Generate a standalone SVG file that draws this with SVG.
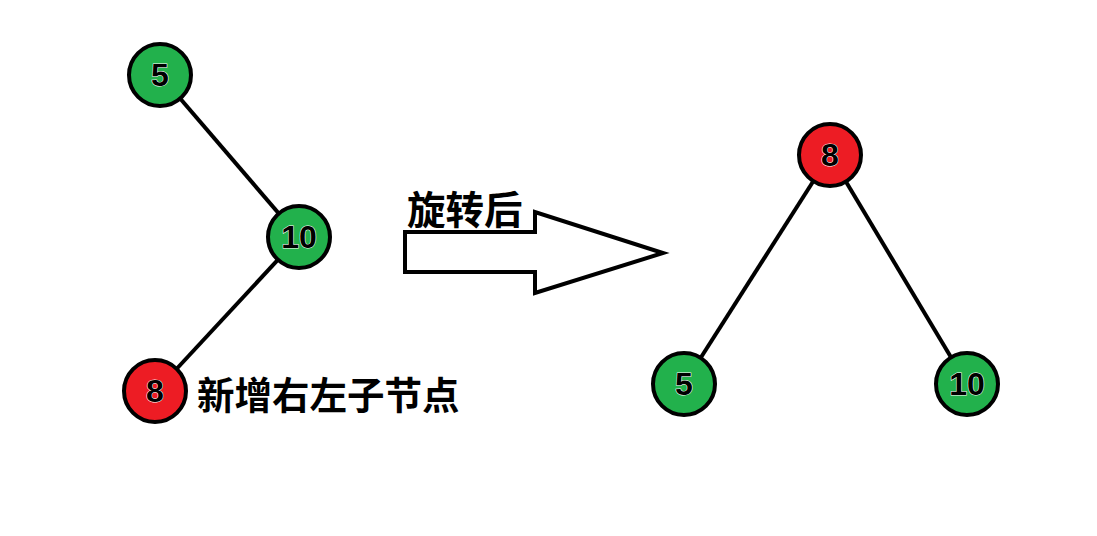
<svg xmlns="http://www.w3.org/2000/svg" width="1097" height="536" viewBox="0 0 1097 536">
<style>
.edge{stroke:#000;stroke-width:4;fill:none}
.g{fill:#22b14c;stroke:#000;stroke-width:4}
.r{fill:#ed1c24;stroke:#000;stroke-width:4}
.n{font-family:"Liberation Sans",Arial,sans-serif;font-weight:bold;font-size:32px;fill:#000;text-anchor:middle;stroke:#fff;stroke-width:1;paint-order:stroke}
.cn{font-family:"Noto Sans CJK SC","Noto Sans",sans-serif;font-weight:bold;fill:#000}
</style>
<rect width="1097" height="536" fill="#fff"/>
<g id="connectors">
<line class="edge" x1="160" y1="75" x2="299" y2="237"/>
<line class="edge" x1="299" y1="237" x2="157" y2="390"/>
<line class="edge" x1="830" y1="155" x2="684" y2="384"/>
<line class="edge" x1="830" y1="155" x2="967" y2="384"/>
<path class="edge" d="M405,232 H535 V212 L663,253 L535,293 V272 H405 Z" fill="#fff" stroke-linejoin="miter"/>
</g>
<g id="node-l5"><circle class="g" cx="160" cy="75" r="31"/><text class="n" x="160" y="86">5</text></g>
<g id="node-l10"><circle class="g" cx="299" cy="237" r="31"/><text class="n" x="299" y="248">10</text></g>
<g id="node-l8"><circle class="r" cx="155" cy="391" r="31"/><text class="n" x="155" y="402">8</text></g>
<g id="label-new"><text class="cn" x="197" y="409" font-size="37.5">新增右左子节点</text></g>
<g id="label-rot"><text class="cn" x="407" y="224" font-size="38.5">旋转后</text></g>
<g id="node-r8"><circle class="r" cx="830" cy="155" r="31"/><text class="n" x="830" y="166">8</text></g>
<g id="node-r5"><circle class="g" cx="684" cy="384" r="31"/><text class="n" x="684" y="395">5</text></g>
<g id="node-r10"><circle class="g" cx="967" cy="384" r="31"/><text class="n" x="967" y="395">10</text></g>
</svg>
